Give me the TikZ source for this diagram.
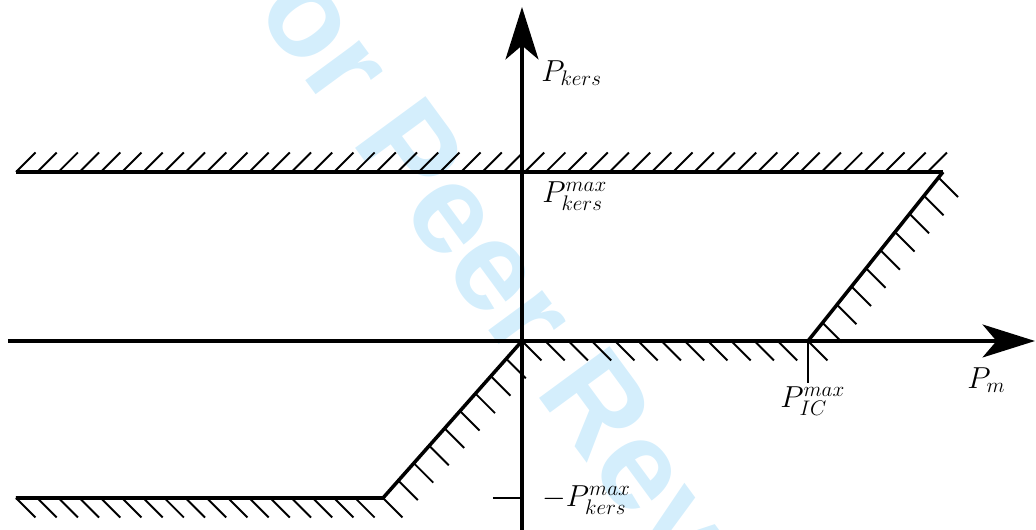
\documentclass[tikz,border=0pt]{standalone}
\usepackage{amsmath}
\usepackage{fontspec}
\usepackage{xcolor}
\usetikzlibrary{arrows.meta, decorations.markings}
\newfontfamily\wmfont{Liberation Sans}
\definecolor{watermark}{RGB}{212, 238, 252}

\begin{document}
\begin{tikzpicture}[
    x=0.02cm, y=0.02cm,
    axis/.style={line width=1.8pt, -{Stealth[length=1.05cm, width=0.66cm, inset=0.28cm]}},
    bound/.style={line width=2pt, line join=miter},
    hatch/.style={line width=1.1pt},
    hatchup/.style={postaction={decorate, decoration={markings,
        mark=between positions 0 and 1 step #1 with {\pgftransformresetnontranslations \draw[hatch] (0,0) -- (19.5,19.5);}}}},
    hatchdown/.style 2 args={postaction={decorate, decoration={markings,
        mark=between positions 0 and #2 step #1 with {\pgftransformresetnontranslations \draw[hatch] (0,0) -- (19.5,-19.5);}}}},
    lbl/.style={font=\fontsize{18}{22}\selectfont, inner sep=0pt, anchor=west},
    wm/.style={font=\wmfont\bfseries\fontsize{72.3}{80}\selectfont, text=watermark, inner sep=0pt, anchor=base west}
]
    \useasboundingbox (-522,-189) rectangle (514,341);

    % Watermark
    \begin{scope}
        \clip (-522,-189) rectangle (514,341);
        \node[wm, rotate=-53.7] (wm) at (-314,393) {For Peer Review};
    \end{scope}

    % Points
    \coordinate (O) at (0,0);
    \coordinate (xs) at (-514,0);
    \coordinate (xe) at (513,0);
    \coordinate (ys) at (0,-189);
    \coordinate (ye) at (0,334);
    \coordinate (tl) at (-506,169);
    \coordinate (tr) at (421,169);
    \coordinate (bl) at (-506,-157);
    \coordinate (bk) at (-139,-157);
    \coordinate (ic) at (286,0);
    \coordinate (icb) at (286,-42);
    \coordinate (mk) at (-29,-157);
    \coordinate (mk0) at (0,-157);

    % Axes
    \draw[axis] (xs) -- (xe);
    \draw[axis] (ys) -- (ye);

    % Bounds
    \draw[bound, hatchup=0.424cm] (tl) -- (tr);
    \draw[bound] (bl) -- (bk) -- (O) -- (ic) -- (tr);
    \path[hatchdown={0.424cm}{-0.2cm}] (bl) -- (bk);
    \path[hatchdown={0.465cm}{-0.2cm}] (bk) -- (O);
    \path[hatchdown={0.465cm}{-0.2cm}] (O) -- (ic);
    \path[hatchdown={0.465cm}{1}] (ic) -- (tr);

    % Ticks
    \draw[hatch] (ic) -- (icb);
    \draw[hatch] (mk) -- (mk0);

    % Labels
    \node[lbl] (pkers) at (19,268) {$P_{kers}$};
    \node[lbl] (pkmax) at (20,145) {$P^{max}_{kers}$};
    \node[lbl] (pkmin) at (20,-159) {$-P^{max}_{kers}$};
    \node[lbl] (picmax) at (258,-60) {$P^{max}_{IC}$};
    \node[lbl] (pm) at (445,-39) {$P_m$};

\end{tikzpicture}
\end{document}
